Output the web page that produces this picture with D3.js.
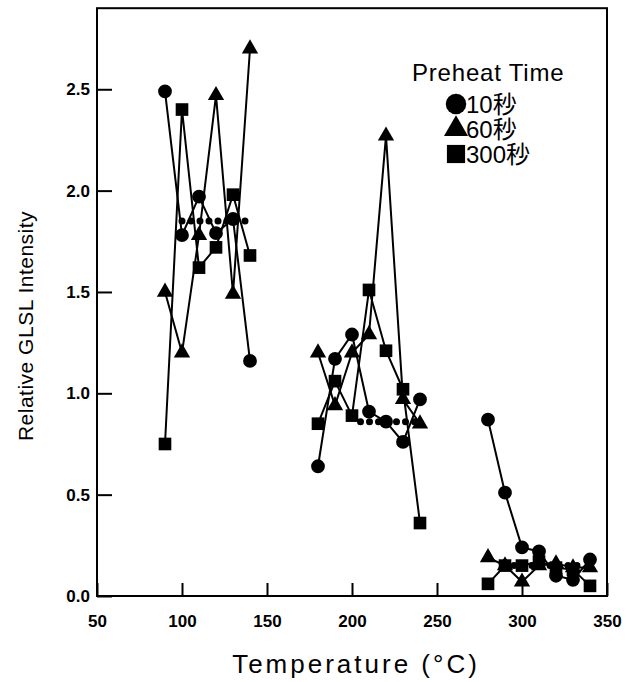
<!DOCTYPE html>
<html>
<head>
<meta charset="utf-8">
<script src="https://cdn.jsdelivr.net/npm/d3@7"></script>
<style>
  html, body { margin: 0; padding: 0; background: #fff; }
  svg { display: block; }
</style>
</head>
<body>
<div id="chart"></div>
<script>
// temperatures (°C), three groups of runs
const temperature = [90, 100, 110, 120, 130, 140,
                     180, 190, 200, 210, 220, 230, 240,
                     280, 290, 300, 310, 320, 330, 340];
// relative GLSL intensity for each preheat time
const sec10  = [2.49, 1.78, 1.97, 1.79, 1.86, 1.16,
                0.64, 1.17, 1.29, 0.91, 0.86, 0.76, 0.97,
                0.87, 0.51, 0.24, 0.22, 0.10, 0.08, 0.18];
const sec60  = [1.50, 1.20, 1.78, 2.47, 1.49, 2.70,
                1.20, 0.94, 1.20, 1.29, 2.27, 0.97, 0.85,
                0.19, 0.15, 0.07, 0.15, 0.16, 0.14, 0.14];
const sec300 = [0.75, 2.40, 1.62, 1.72, 1.98, 1.68,
                0.85, 1.06, 0.89, 1.51, 1.21, 1.02, 0.36,
                0.06, 0.15, 0.15, 0.17, 0.14, 0.13, 0.05];
// dotted average lines
const avgTemp = [100, 140, 205, 240, 290, 335];
const avgVal  = [1.85, 1.85, 0.86, 0.86, 0.15, 0.15];

const xTicks = [50, 100, 150, 200, 250, 300, 350];
const yTicks = [0, 0.5, 1.0, 1.5, 2.0, 2.5];
const legendLabels = ["10秒", "60秒", "300秒"];

const W = 626, H = 682;
const svg = d3.select("#chart").append("svg")
  .attr("width", W).attr("height", H);

const x = d3.scaleLinear().domain([50, 350]).range([97, 607]);
const y = d3.scaleLinear().domain([0, 2.9]).range([596, 8.2]);

// split one series into the three temperature groups
function groups(vals) {
  const out = [];
  let cur = [];
  temperature.forEach((t, i) => {
    if (cur.length && t - cur[cur.length - 1].t > 20) { out.push(cur); cur = []; }
    cur.push({ t, v: vals[i] });
  });
  out.push(cur);
  return out;
}

const line = d3.line().x(d => x(d.t)).y(d => y(d.v));

// frame
svg.append("rect")
  .attr("x", x(50)).attr("y", y(2.9))
  .attr("width", x(350) - x(50)).attr("height", y(0) - y(2.9))
  .attr("fill", "none").attr("stroke", "#000").attr("stroke-width", 2);

// inward ticks
const xAxis = d3.axisBottom(x).tickValues(xTicks).tickSize(-13).tickPadding(19)
  .tickFormat(d3.format("d"));
const gx = svg.append("g").attr("transform", `translate(0,${y(0)})`).call(xAxis);
gx.select(".domain").remove();
gx.selectAll(".tick line").attr("stroke-width", 2);
gx.selectAll(".tick text")
  .attr("font-family", "'Liberation Sans', Arial, sans-serif")
  .attr("font-weight", "bold").attr("font-size", 17).attr("fill", "#000");

const yAxis = d3.axisLeft(y).tickValues(yTicks).tickSize(-15).tickPadding(7)
  .tickFormat(d3.format(".1f"));
const gy = svg.append("g").attr("transform", `translate(${x(50)},0)`).call(yAxis);
gy.select(".domain").remove();
gy.selectAll(".tick line").attr("stroke-width", 2);
gy.selectAll(".tick text")
  .attr("font-family", "'Liberation Sans', Arial, sans-serif")
  .attr("font-weight", "bold").attr("font-size", 17).attr("fill", "#000");

// dotted average lines
for (let i = 0; i < avgTemp.length; i += 2) {
  svg.append("path")
    .datum([{ t: avgTemp[i], v: avgVal[i] }, { t: avgTemp[i + 1], v: avgVal[i + 1] }])
    .attr("d", line)
    .attr("fill", "none").attr("stroke", "#000")
    .attr("stroke-width", 7).attr("stroke-linecap", "round")
    .attr("stroke-dasharray", "0,9");
}

const series = [
  { vals: sec10,  sym: d3.symbolCircle,   size: 150 },
  { vals: sec60,  sym: d3.symbolTriangle, size: 115 },
  { vals: sec300, sym: d3.symbolSquare,   size: 160 }
];

series.forEach(s => {
  groups(s.vals).forEach(g => {
    svg.append("path").datum(g).attr("d", line)
      .attr("fill", "none").attr("stroke", "#000").attr("stroke-width", 2);
  });
  svg.append("g").selectAll("path")
    .data(temperature.map((t, i) => ({ t, v: s.vals[i] })))
    .join("path")
    .attr("transform", d => `translate(${x(d.t)},${y(d.v)})`)
    .attr("d", d3.symbol(s.sym, s.size))
    .attr("fill", "#000");
});

// legend
const lg = svg.append("g");
lg.append("text").attr("x", 412).attr("y", 81)
  .attr("font-family", "'Liberation Sans', Arial, sans-serif")
  .attr("font-size", 24).attr("letter-spacing", 0.8).text("Preheat Time");
const legendSyms = [d3.symbolCircle, d3.symbolTriangle, d3.symbolSquare];
const legendSizes = [330, 250, 330];
legendLabels.forEach((lab, i) => {
  const cy = 104 + i * 25;
  lg.append("path")
    .attr("transform", `translate(456,${cy})`)
    .attr("d", d3.symbol(legendSyms[i], legendSizes[i]))
    .attr("fill", "#000");
  lg.append("text").attr("x", 466).attr("y", cy + 9)
    .attr("font-family", "'Liberation Sans', 'Noto Sans CJK JP', sans-serif")
    .attr("font-size", 24).text(lab);
});

// axis titles
svg.append("text")
  .attr("transform", `translate(33,326) rotate(-90)`)
  .attr("text-anchor", "middle")
  .attr("font-family", "'Liberation Sans', Arial, sans-serif")
  .attr("font-size", 21).attr("letter-spacing", 0.5).text("Relative GLSL Intensity");

svg.append("text")
  .attr("x", 356).attr("y", 673)
  .attr("text-anchor", "middle")
  .attr("font-family", "'Liberation Sans', 'Noto Sans CJK JP', sans-serif")
  .attr("font-size", 26).attr("letter-spacing", 3)
  .text("Temperature (°C)");
</script>
</body>
</html>
